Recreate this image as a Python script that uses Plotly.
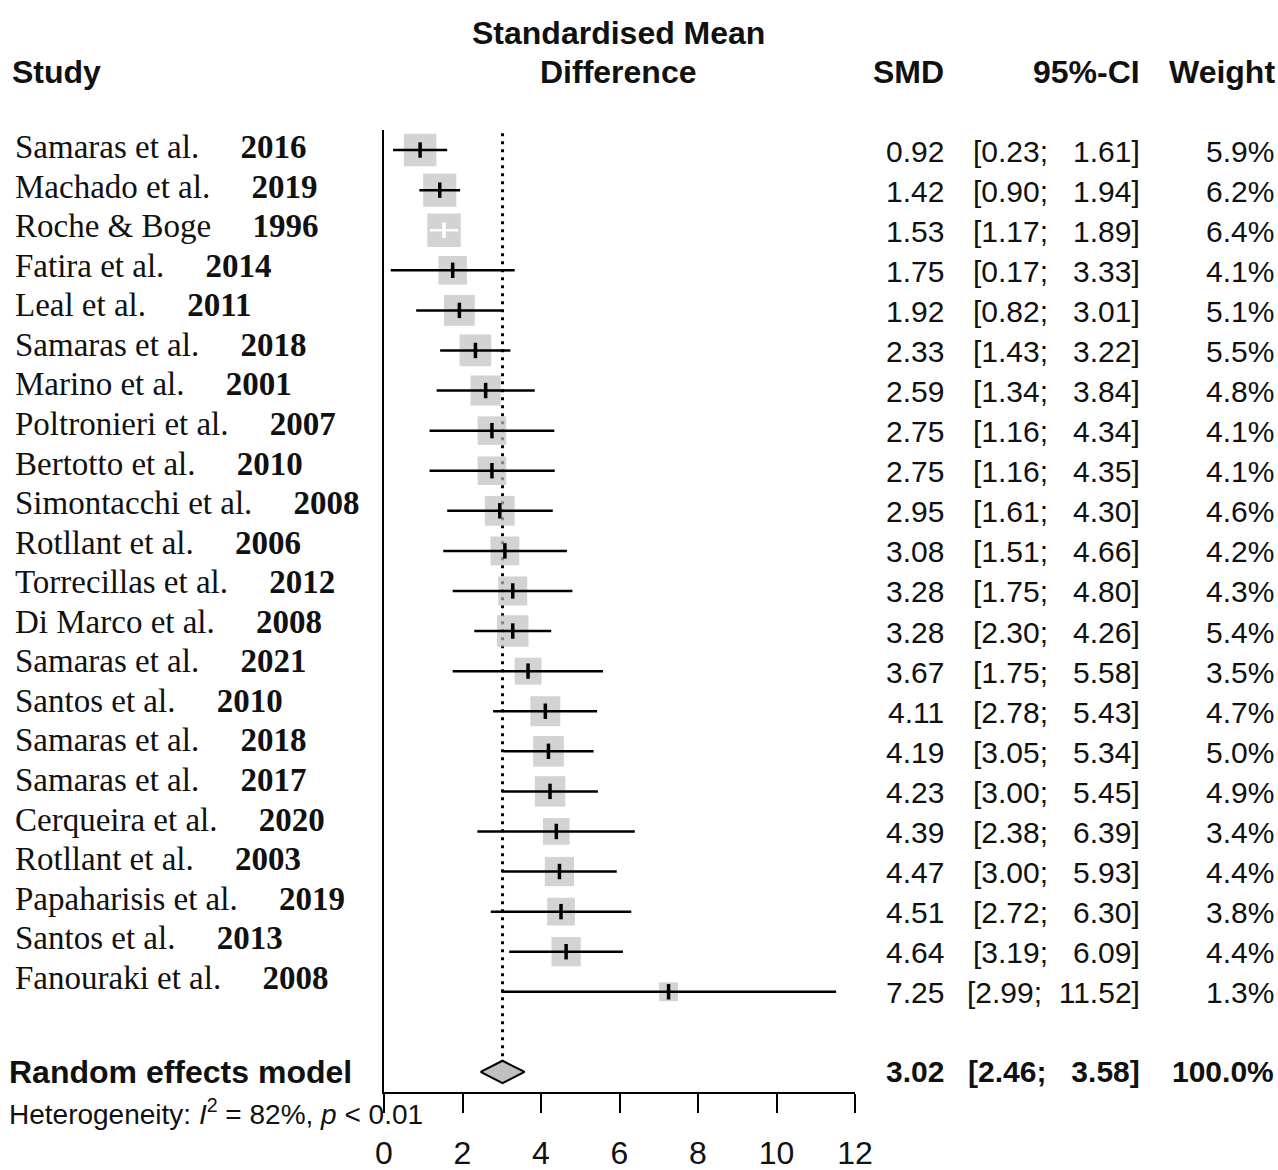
import plotly.graph_objects as go

# ---------------- data ----------------
studies = ["Samaras et al.", "Machado et al.", "Roche & Boge", "Fatira et al.", "Leal et al.",
           "Samaras et al.", "Marino et al.", "Poltronieri et al.", "Bertotto et al.",
           "Simontacchi et al.", "Rotllant et al.", "Torrecillas et al.", "Di Marco et al.",
           "Samaras et al.", "Santos et al.", "Samaras et al.", "Samaras et al.",
           "Cerqueira et al.", "Rotllant et al.", "Papaharisis et al.", "Santos et al.",
           "Fanouraki et al."]
years = ["2016", "2019", "1996", "2014", "2011", "2018", "2001", "2007", "2010", "2008", "2006",
         "2012", "2008", "2021", "2010", "2018", "2017", "2020", "2003", "2019", "2013", "2008"]
smd = [0.92, 1.42, 1.53, 1.75, 1.92, 2.33, 2.59, 2.75, 2.75, 2.95, 3.08,
       3.28, 3.28, 3.67, 4.11, 4.19, 4.23, 4.39, 4.47, 4.51, 4.64, 7.25]
ci_low = [0.23, 0.90, 1.17, 0.17, 0.82, 1.43, 1.34, 1.16, 1.16, 1.61, 1.51,
          1.75, 2.30, 1.75, 2.78, 3.05, 3.00, 2.38, 3.00, 2.72, 3.19, 2.99]
ci_high = [1.61, 1.94, 1.89, 3.33, 3.01, 3.22, 3.84, 4.34, 4.35, 4.30, 4.66,
           4.80, 4.26, 5.58, 5.43, 5.34, 5.45, 6.39, 5.93, 6.30, 6.09, 11.52]
weight = [5.9, 6.2, 6.4, 4.1, 5.1, 5.5, 4.8, 4.1, 4.1, 4.6, 4.2,
          4.3, 5.4, 3.5, 4.7, 5.0, 4.9, 3.4, 4.4, 3.8, 4.4, 1.3]
pooled_smd = 3.02
pooled_low = 2.46
pooled_high = 3.58
pooled_weight = 100.0
i2 = 82
p_text = "< 0.01"
x_ticks = [0, 2, 4, 6, 8, 10, 12]

# ---------------- layout constants ----------------
W, H = 1278, 1170
X0_PX, X1_PX = 384, 855          # x=0 and x=12
Y_TOP_PX, Y_BOT_PX = 130, 1092   # y range top / bottom
Y_TOP, Y_BOT = 0.5, 24.5
POOLED_ROW = 24
SERIF = "Liberation Serif, Times New Roman, serif"
SANS = "Liberation Sans, Arial, sans-serif"
TXT = "#111111"
GREY = "#c0c0c0"

px_per_unit = (X1_PX - X0_PX) / (x_ticks[-1] - x_ticks[0])
rows = list(range(1, len(studies) + 1))


def sq_size(w):
    return 33.5 * (w / max(weight)) ** 0.36


def px2paper_x(px):
    return px / W


def px2paper_y(py):
    return 1 - py / H


fig = go.Figure()

# reference (pooled) dotted line
fig.add_trace(go.Scatter(
    x=[pooled_smd, pooled_smd], y=[0.58, POOLED_ROW - 0.28], mode="lines",
    line=dict(color="black", width=3, dash="3px,5px"), hoverinfo="skip", showlegend=False))

# squares
sizes = [sq_size(w) for w in weight]
fig.add_trace(go.Scatter(
    x=smd, y=rows, mode="markers",
    marker=dict(symbol="square", size=sizes, color=GREY, line=dict(width=0)),
    hoverinfo="skip", showlegend=False))

# CI lines: white if fully inside the square
inside = [(hi - lo) * px_per_unit < s for lo, hi, s in zip(ci_low, ci_high, sizes)]
for col, flag in (("black", False), ("white", True)):
    xs, ys, px_, py_ = [], [], [], []
    for lo, hi, m, r, ins in zip(ci_low, ci_high, smd, rows, inside):
        if ins == flag:
            xs += [lo, hi, None]
            ys += [r, r, None]
            px_.append(m)
            py_.append(r)
    if not px_:
        continue
    fig.add_trace(go.Scatter(x=xs, y=ys, mode="lines", line=dict(color=col, width=2.5),
                             hoverinfo="skip", showlegend=False))
    fig.add_trace(go.Scatter(x=px_, y=py_, mode="markers",
                             marker=dict(symbol="line-ns-open", size=11, color=col,
                                         line=dict(color=col, width=3.5)),
                             hoverinfo="skip", showlegend=False))

# pooled diamond
dh = 0.28
fig.add_trace(go.Scatter(
    x=[pooled_low, pooled_smd, pooled_high, pooled_smd, pooled_low],
    y=[POOLED_ROW, POOLED_ROW - dh, POOLED_ROW, POOLED_ROW + dh, POOLED_ROW],
    mode="lines", fill="toself", fillcolor=GREY,
    line=dict(color="black", width=2), hoverinfo="skip", showlegend=False))

ann = []

# headers
ann.append(dict(text="<b>Standardised Mean</b>", x=px2paper_x(618), y=px2paper_y(33),
                xref="paper", yref="paper", xanchor="center", yanchor="middle",
                showarrow=False, font=dict(family=SANS, size=32, color=TXT)))
ann.append(dict(text="<b>Difference</b>", x=px2paper_x(618), y=px2paper_y(72),
                xref="paper", yref="paper", xanchor="center", yanchor="middle",
                showarrow=False, font=dict(family=SANS, size=32, color=TXT)))
ann.append(dict(text="<b>Study</b>", x=px2paper_x(10), y=px2paper_y(72),
                xref="paper", yref="paper", xanchor="left", yanchor="middle",
                showarrow=False, font=dict(family=SANS, size=32, color=TXT)))
for t, xr in (("SMD", 946), ("95%-CI", 1142), ("Weight", 1277)):
    ann.append(dict(text=f"<b>{t}</b>", x=px2paper_x(xr), y=px2paper_y(72),
                    xref="paper", yref="paper", xanchor="right", yanchor="middle",
                    showarrow=False, font=dict(family=SANS, size=32, color=TXT)))


def ci_str(lo, hi):
    a = f"{lo:.2f}"
    b = f"{hi:.2f}"
    pad = "\u00a0" * (6 - len(b))
    return f"[{a};{pad}\u00a0{b}]"


# study rows
for i, (name, yr, m, lo, hi, w, r) in enumerate(zip(studies, years, smd, ci_low, ci_high, weight, rows)):
    ann.append(dict(text=name.replace('&', '&amp;') + "\u00a0" * 5 + f"<b>{yr}</b>",
                    x=px2paper_x(13), y=r, xref="paper", yref="y",
                    xanchor="left", yanchor="middle", yshift=3 + 0.52 * i,
                    showarrow=False, font=dict(family=SERIF, size=33, color=TXT)))
    for t, xr in ((f"{m:.2f}", 946), (ci_str(lo, hi), 1142), (f"{w:.1f}%", 1276)):
        ann.append(dict(text=t, x=px2paper_x(xr), y=r, xref="paper", yref="y",
                        xanchor="right", yanchor="middle", yshift=-1,
                        showarrow=False, font=dict(family=SANS, size=30, color=TXT)))

# pooled row
ann.append(dict(text="<b>Random effects model</b>", x=px2paper_x(7), y=POOLED_ROW,
                xref="paper", yref="y", xanchor="left", yanchor="middle",
                showarrow=False, font=dict(family=SANS, size=32, color=TXT)))
for t, xr in ((f"{pooled_smd:.2f}", 946), (ci_str(pooled_low, pooled_high), 1142),
              (f"{pooled_weight:.1f}%", 1276)):
    ann.append(dict(text=f"<b>{t}</b>", x=px2paper_x(xr), y=POOLED_ROW, xref="paper", yref="y",
                    xanchor="right", yanchor="middle",
                    showarrow=False, font=dict(family=SANS, size=30, color=TXT)))

ann.append(dict(text=f"Heterogeneity: <i>I</i><sup>2</sup> = {i2}%, <i>p</i> {p_text.replace('<', '&lt;')}",
                x=px2paper_x(7), y=px2paper_y(1112), xref="paper", yref="paper",
                xanchor="left", yanchor="middle",
                showarrow=False, font=dict(family=SANS, size=28, color=TXT)))

fig.update_layout(
    width=W, height=H,
    margin=dict(l=0, r=0, t=0, b=0, autoexpand=False),
    paper_bgcolor="white", plot_bgcolor="white",
    annotations=ann,
    xaxis=dict(domain=[px2paper_x(X0_PX), px2paper_x(X1_PX)], range=[x_ticks[0], x_ticks[-1]],
               tickvals=x_ticks, ticktext=[str(t) for t in x_ticks],
               showgrid=False, zeroline=False, showline=True, linecolor="black", linewidth=2,
               ticks="outside", ticklen=19, tickwidth=2, tickcolor="black",
               tickfont=dict(family=SANS, size=32, color=TXT), ticklabelstandoff=13,
               automargin=False, fixedrange=True),
    yaxis=dict(domain=[px2paper_y(Y_BOT_PX), px2paper_y(Y_TOP_PX)], range=[Y_BOT, Y_TOP],
               showgrid=False, zeroline=False, showline=True, linecolor="black", linewidth=2,
               showticklabels=False, ticks="", automargin=False, fixedrange=True),
)

# remove the browser's default page margin so the 1278x1170 figure fills the window exactly
fig.write_html(
    "out.html",
    config={"displayModeBar": False},
    post_script="document.body.style.margin='0';document.body.style.overflow='hidden';",
)
